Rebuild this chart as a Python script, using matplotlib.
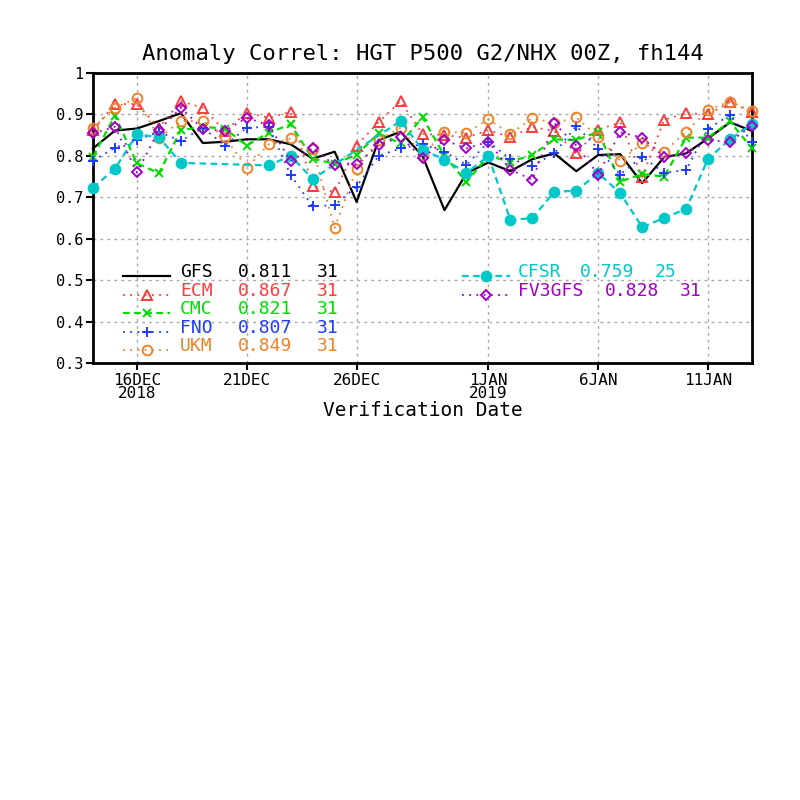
import numpy as np
import matplotlib
matplotlib.use("Agg")
import matplotlib.pyplot as plt

days = np.arange(31)  # 14DEC2018 .. 13JAN2019

gfs = [0.818, 0.861, 0.866, 0.884, 0.903, 0.831, 0.834, 0.840, 0.840, 0.828,
       0.793, 0.810, 0.689, 0.838, 0.858, 0.800, 0.669, 0.758, 0.784, 0.763,
       0.792, 0.806, 0.763, 0.802, 0.804, 0.734, 0.797, 0.806, 0.842, 0.881, 0.860]
ecm = [0.862, 0.925, 0.925, 0.868, 0.932, 0.916, 0.860, 0.904, 0.892, 0.906,
       0.727, 0.712, 0.825, 0.881, 0.932, 0.853, 0.850, 0.844, 0.862, 0.845,
       0.870, 0.860, 0.806, 0.863, 0.881, 0.749, 0.887, 0.903, 0.900, 0.930, 0.905]
cmc = [0.798, 0.897, 0.782, 0.758, 0.862, 0.870, 0.866, 0.825, 0.856, 0.876,
       0.793, 0.781, 0.803, 0.854, 0.830, 0.893, 0.800, 0.737, 0.800, 0.786,
       0.802, 0.840, 0.838, 0.858, 0.738, 0.756, 0.750, 0.844, 0.844, 0.883, 0.818]
fno = [0.788, 0.820, 0.838, 0.858, 0.836, 0.868, 0.825, 0.868, 0.870, 0.754,
       0.678, 0.681, 0.726, 0.800, 0.818, 0.828, 0.810, 0.778, 0.834, 0.792,
       0.776, 0.806, 0.872, 0.817, 0.755, 0.798, 0.759, 0.766, 0.865, 0.899, 0.834]
ukm = [0.868, 0.916, 0.940, 0.843, 0.884, 0.884, 0.846, 0.771, 0.828, 0.842,
       0.817, 0.626, 0.769, 0.838, 0.868, 0.802, 0.858, 0.856, 0.888, 0.853,
       0.891, 0.879, 0.893, 0.846, 0.788, 0.830, 0.810, 0.858, 0.911, 0.931, 0.908]
nan = np.nan
cfsr = [0.723, 0.769, 0.852, 0.845, 0.783, nan, nan, nan, 0.777, 0.800,
        0.744, nan, nan, nan, 0.884, 0.815, 0.791, 0.759, 0.800, 0.645,
        0.650, 0.713, 0.716, 0.758, 0.710, 0.628, 0.650, 0.672, 0.793, 0.840, 0.876]
fv3 = [0.854, 0.870, 0.760, 0.862, 0.916, 0.865, 0.860, 0.892, 0.874, 0.788,
       0.818, 0.778, 0.780, 0.826, 0.846, 0.794, 0.838, 0.818, 0.834, 0.767,
       0.742, 0.879, 0.825, 0.755, 0.857, 0.844, 0.798, 0.806, 0.838, 0.834, 0.873]

names = ["GFS", "ECM", "CMC", "FNO", "UKM", "CFSR", "FV3GFS"]
scores = ["0.811", "0.867", "0.821", "0.807", "0.849", "0.759", "0.828"]
counts = ["31", "31", "31", "31", "31", "25", "31"]

xtick_pos = [2, 7, 12, 18, 23, 28]
xtick_lab = ["16DEC\n2018", "21DEC", "26DEC", "1JAN\n2019", "6JAN", "11JAN"]
ytick_pos = [0.3, 0.4, 0.5, 0.6, 0.7, 0.8, 0.9, 1.0]
ytick_lab = ["0.3", "0.4", "0.5", "0.6", "0.7", "0.8", "0.9", "1"]

series = [gfs, ecm, cmc, fno, ukm, cfsr, fv3]
colors = ["#000000", "#fa3c3c", "#00dc00", "#1e3cff", "#f08228", "#00c8c8", "#a000c8"]
lstyles = ["-", (0, (1, 3)), (0, (3, 2)), (0, (1, 3)), (0, (1, 3)), (0, (3, 2)), (0, (1, 3))]
markers = [None, "^", "x", "+", "o", "o", "D"]
msizes = [0, 6.5, 6, 7.5, 7, 7, 4.8]
mfill = [None, "none", None, None, "none", None, "none"]
lwidths = [1.6, 1.3, 1.6, 1.3, 1.3, 1.6, 1.3]

MONO = "DejaVu Sans Mono"

fig = plt.figure(figsize=(8, 8), dpi=100)
ax = fig.add_axes([93 / 800, 1 - 363 / 800, (752 - 93) / 800, (363 - 73) / 800])

for i, s in enumerate(series):
    arr = np.array(s, dtype=float)
    ok = ~np.isnan(arr)
    kw = dict(color=colors[i], linestyle=lstyles[i], linewidth=lwidths[i])
    if markers[i] is not None:
        kw.update(marker=markers[i], markersize=msizes[i], markeredgewidth=1.4)
        if mfill[i] == "none":
            kw.update(markerfacecolor="none")
    ax.plot(days[ok], arr[ok], clip_on=False, zorder=3 + i, **kw)

ax.set_xlim(0, 30)
ax.set_ylim(0.3, 1.0)
ax.set_xticks(xtick_pos)
ax.set_xticklabels(xtick_lab, fontfamily=MONO, fontsize=11.5, linespacing=0.88)
ax.set_yticks(ytick_pos)
ax.set_yticklabels(ytick_lab, fontfamily=MONO, fontsize=11)
ax.tick_params(axis="both", direction="out", length=5, width=1.5, pad=2)
ax.grid(True, color="#a8a8a8", linestyle=(0, (2, 3)), linewidth=1.0)
ax.set_axisbelow(True)
for sp in ax.spines.values():
    sp.set_linewidth(2.0)

W, H = 659.0, 290.0
def ax_x(px):
    return (px - 93) / W
def ax_y(py):
    return (363 - py) / H

ax.set_xlabel("Verification Date", fontfamily=MONO, fontsize=14, va="center")
ax.xaxis.set_label_coords(0.5, ax_y(411))
ax.set_title("Anomaly Correl: HGT P500 G2/NHX 00Z, fh144", fontfamily=MONO,
             fontsize=16, pad=9)

# legend (drawn in axes-fraction coordinates)
left_rows = [272, 291, 309, 328, 346]
right_rows = [272, 291]
rows = [(93 + 30, 93 + 77, 180, 238, 317, y) for y in left_rows] + \
       [(462, 510, 518, 580, 655, y) for y in right_rows]
for i in range(7):
    x0, x1, xn, xs, xc, yy = rows[i]
    if i == 6:
        xs, xc = 605, 680
    yl = yy + 4
    ax.plot([ax_x(x0), ax_x(x1)], [ax_y(yl), ax_y(yl)], transform=ax.transAxes,
            color=colors[i], linestyle=lstyles[i], linewidth=lwidths[i],
            clip_on=False, zorder=20)
    if markers[i] is not None:
        kw = dict(marker=markers[i], markersize=msizes[i], markeredgewidth=1.4,
                  color=colors[i], linestyle="none")
        if mfill[i] == "none":
            kw.update(markerfacecolor="none")
        ax.plot([ax_x((x0 + x1) / 2)], [ax_y(yl)], transform=ax.transAxes,
                clip_on=False, zorder=21, **kw)
    for txt, xp in ((names[i], xn), (scores[i], xs), (counts[i], xc)):
        ax.text(ax_x(xp), ax_y(yy), txt, transform=ax.transAxes, color=colors[i],
                fontfamily=MONO, fontsize=13, ha="left", va="center", zorder=22)

fig.savefig("out.png", dpi=100, facecolor="white")
